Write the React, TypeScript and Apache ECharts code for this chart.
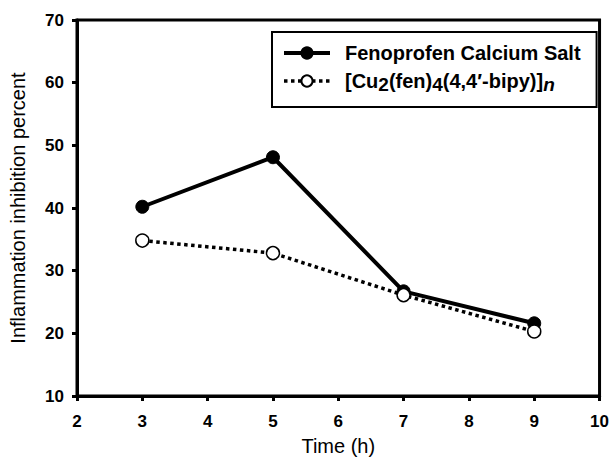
import React, { useEffect, useRef } from "react";
import * as echarts from "echarts";

const timeHours = [3, 5, 7, 9];
const fenoprofenValues = [40.2, 48.1, 26.7, 21.6];
const copperComplexValues = [34.8, 32.8, 26.1, 20.3];
const xTicks = [2, 3, 4, 5, 6, 7, 8, 9, 10];
const yTicks = [10, 20, 30, 40, 50, 60, 70];

const FONT = "'Liberation Sans', Arial, Helvetica, sans-serif";

export default function App() {
  const ref = useRef<HTMLDivElement>(null);
  useEffect(() => {
    document.body.style.margin = "0";
    if (!ref.current) return;
    const chart = echarts.init(ref.current, undefined, { renderer: "svg" });
    const seriesA = "Fenoprofen Calcium Salt";
    const seriesB = "[Cu2(fen)4(4,4′-bipy)]n";
    chart.setOption({
      animation: false,
      backgroundColor: "#fff",
      grid: {
        left: 75,
        right: 10,
        top: 20,
        bottom: 65,
        show: true,
        borderColor: "#000",
        borderWidth: 3,
        backgroundColor: "transparent",
      },
      legend: {
        orient: "vertical",
        left: 272,
        top: 32,
        width: 323,
        borderColor: "#000",
        borderWidth: 2,
        padding: [11, 16, 13, 10],
        itemGap: 8,
        itemWidth: 46,
        itemHeight: 14,
        data: [
          { name: seriesA, lineStyle: { width: 4, color: "#000" } },
          { name: seriesB, lineStyle: { width: 3.5, color: "#000", type: "dotted" } },
        ],
        formatter: (name: string) =>
          name === seriesA
            ? "{b|Fenoprofen Calcium Salt}"
            : "{b|[Cu}{s|2}{b|(fen)}{s|4}{b|(4,4′-bipy)]}{si|n}",
        textStyle: {
          padding: [0, 0, 0, 10],
          rich: {
            b: { fontFamily: FONT, fontWeight: "bold", fontSize: 20, color: "#000" },
            s: { fontFamily: FONT, fontWeight: "bold", fontSize: 19, color: "#000", padding: [7, 0, 0, 0] },
            si: { fontFamily: FONT, fontWeight: "bold", fontStyle: "italic", fontSize: 19, color: "#000", padding: [7, 0, 0, 0] },
          },
        },
      },
      xAxis: {
        type: "value",
        min: 2,
        max: 10,
        interval: 1,
        name: "Time (h)",
        nameLocation: "middle",
        nameGap: 40,
        nameTextStyle: { fontFamily: FONT, fontSize: 20, color: "#000" },
        axisLine: { show: true, lineStyle: { color: "#000", width: 3 } },
        axisTick: { show: true, length: 5, inside: false, lineStyle: { color: "#000", width: 3 } },
        axisLabel: {
          fontFamily: FONT,
          fontWeight: "bold",
          fontSize: 17,
          color: "#000",
          margin: 17,
          customValues: xTicks,
        },
        splitLine: { show: false },
      },
      yAxis: {
        type: "value",
        min: 10,
        max: 70,
        interval: 10,
        name: "Inflammation inhibition percent",
        nameLocation: "middle",
        nameGap: 49,
        nameTextStyle: { fontFamily: FONT, fontSize: 20, color: "#000" },
        axisLine: { show: true, lineStyle: { color: "#000", width: 3 } },
        axisTick: { show: true, length: 5, lineStyle: { color: "#000", width: 3 } },
        axisLabel: {
          fontFamily: FONT,
          fontWeight: "bold",
          fontSize: 17,
          color: "#000",
          margin: 13,
          customValues: yTicks,
        },
        splitLine: { show: false },
      },
      series: [
        {
          name: seriesA,
          type: "line",
          data: timeHours.map((t, i) => [t, fenoprofenValues[i]]),
          symbol: "circle",
          symbolSize: 13,
          z: 2,
          lineStyle: { color: "#000", width: 4 },
          itemStyle: { color: "#000", borderColor: "#000", borderWidth: 1 },
        },
        {
          name: seriesB,
          type: "line",
          data: timeHours.map((t, i) => [t, copperComplexValues[i]]),
          symbol: "circle",
          symbolSize: 13,
          z: 3,
          lineStyle: { color: "#000", width: 3.5, type: "dotted" },
          itemStyle: { color: "#fff", borderColor: "#000", borderWidth: 1.5 },
        },
      ],
    });
    return () => chart.dispose();
  }, []);
  return <div ref={ref} style={{ width: 612, height: 461 }} />;
}
